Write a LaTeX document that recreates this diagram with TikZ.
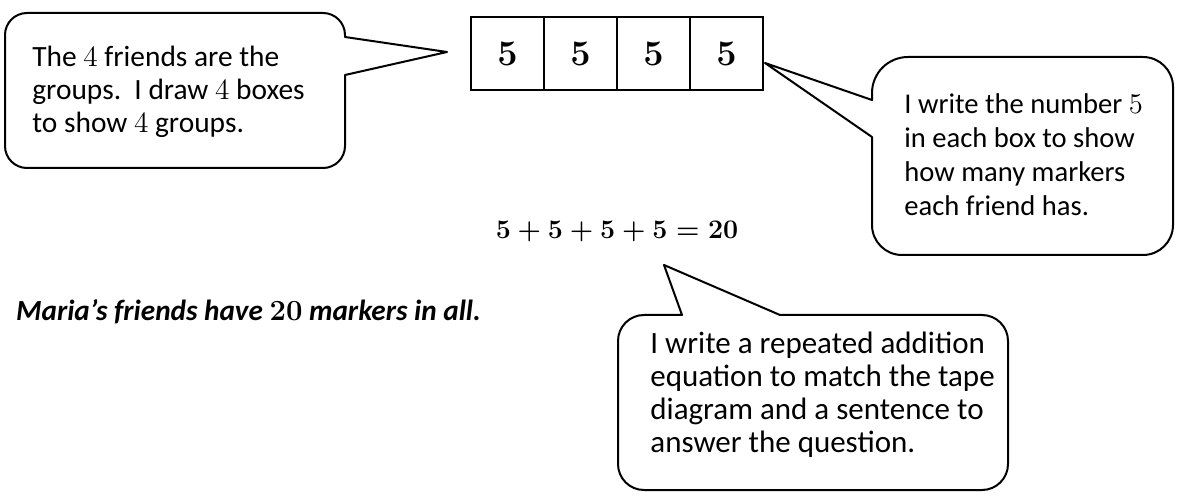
\documentclass[tikz,border=0pt]{standalone}
\usepackage{fix-cm}
\usepackage[no-math]{fontspec}
\setmainfont{Carlito}
\usetikzlibrary{positioning}

\begin{document}
\begin{tikzpicture}[
	x=0.5pt,
	y=-0.5pt,
	bubble/.style={draw=black, line width=1pt, line join=round},
	say/.style={align=left, anchor=base west, inner sep=0pt},
	cell/.style={draw=black, line width=1pt, minimum width=36.5pt, minimum height=36.5pt, inner sep=0pt, font=\fontsize{18}{18}\selectfont\boldmath}
	]
	\useasboundingbox (0,0) rectangle (1178,502);

	% tape diagram
	\foreach \i in {1,...,4}
		\node[cell] (c\i) at ({434.5+73*\i},53.5) {$5$};

	\node[font=\fontsize{13.4}{16}\selectfont\boldmath] (sum) at (617,232) {$5+5+5+5=20$};
	\node[anchor=west, font=\fontsize{14.6}{16}\selectfont\bfseries\itshape] (answer) at (9,312) {Maria’s friends have $\mathbf{20}$ markers in all.};

	% tips of the callouts
	\coordinate (tip1) at (447,52);
	\coordinate (tip2) at (765,63);
	\coordinate (tip3) at (664,265);

	% callouts
	\draw[bubble] (5,100) [rounded corners=11pt] -- (5,13) -- (345,13) [sharp corners] -- (345,37) -- (tip1) -- (345,75) [rounded corners=11pt] -- (345,168) -- (5,168) -- cycle;
	\node[say, font=\fontsize{14.7}{16.5}\selectfont] (t1) at (32,133) {The $4$ friends are the\\groups.\ \ I draw $4$ boxes\\to show $4$ groups.};

	\draw[bubble] (1020,57) [rounded corners=15pt] -- (1173,57) -- (1173,255) -- (872,255) [sharp corners] -- (872,137) -- (tip2) -- (872,100) [rounded corners=18pt] -- (872,57) -- cycle;
	\node[say, font=\fontsize{14.3}{17}\selectfont] (t2) at (904,216) {I write the number $5$\\in each box to show\\how many markers\\each friend has.};

	\draw[bubble] (618,400) [rounded corners=13pt] -- (618,315) [sharp corners] -- (682,315) -- (tip3) -- (780,315) [rounded corners=13pt] -- (1008,315) -- (1008,490) -- (618,490) -- cycle;
	\node[say, font=\fontsize{15.5}{16.5}\selectfont] (t3) at (650,452) {I write a repeated addition\\equation to match the tape\\diagram and a sentence to\\answer the question.};
\end{tikzpicture}
\end{document}
